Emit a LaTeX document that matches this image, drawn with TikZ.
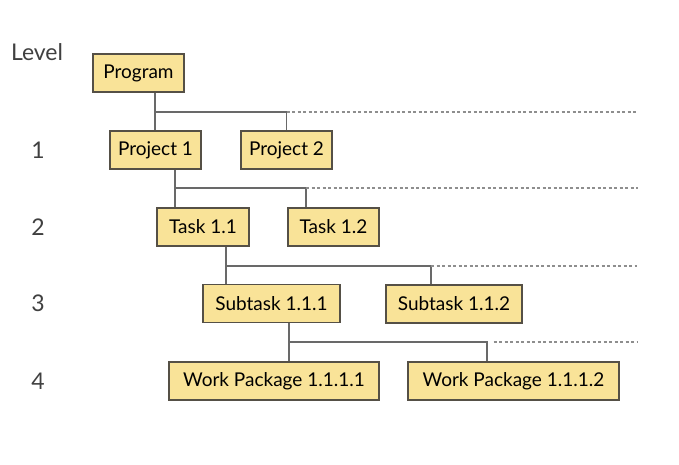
\documentclass[tikz,border=0pt]{standalone}
\usepackage{fontspec}
\setmainfont{Lato}
\usepackage{xcolor}
\usepackage{tikz}

\definecolor{boxfill}{RGB}{249,227,152}
\definecolor{boxline}{RGB}{85,80,70}
\definecolor{linkgray}{RGB}{105,105,105}

\begin{document}
\begin{tikzpicture}[x=1pt,y=-1pt,
  box/.style={draw=boxline, fill=boxfill, line width=1.2pt, minimum height=38pt,
    inner sep=0pt, font=\fontsize{19}{22}\selectfont},
  lvl/.style={font=\fontsize{23}{26}\selectfont, text=black!75},
  link/.style={draw=linkgray, line width=1.3pt},
  more/.style={draw=linkgray!75, line width=1.1pt, dash pattern=on 3pt off 2.5pt}]
\useasboundingbox (0,0) rectangle (679,465);

%% niveaux
\node[lvl] (lvl0) at (37,52) {Level};
\node[lvl] (lvl1) at (38,150) {1};
\node[lvl] (lvl2) at (38,227) {2};
\node[lvl] (lvl3) at (38,303) {3};
\node[lvl] (lvl4) at (38,381) {4};

%% boites
\node[box, minimum width=91pt] (prog) at (138.5,73) {Program};
\node[box, minimum width=91pt] (prj1) at (155.5,150) {Project 1};
\node[box, minimum width=91pt] (prj2) at (286.5,150) {Project 2};
\node[box, minimum width=92pt] (tsk11) at (203,227) {Task 1.1};
\node[box, minimum width=91pt] (tsk12) at (333.5,227) {Task 1.2};
\node[box, minimum width=137pt] (sub111) at (271.5,303.5) {Subtask 1.1.1};
\node[box, minimum width=136pt] (sub112) at (454,304) {Subtask 1.1.2};
\node[box, minimum width=210pt] (wp1) at (274,381) {Work Package 1.1.1.1};
\node[box, minimum width=211pt] (wp2) at (513.5,381) {Work Package 1.1.1.2};

%% points de branchement
\coordinate (b1) at (155,112);
\coordinate (e1) at (638,112);
\coordinate (b2) at (175,188);
\coordinate (e2) at (638,188);
\coordinate (b3) at (226,266);
\coordinate (e3) at (637,266);
\coordinate (b4) at (289,342);
\coordinate (e4) at (637,342);

%% niveau 1
\draw[link] (b1 |- prog.south) -- (b1 |- prj1.north);
\draw[link] (b1) -| (prj2.north);
\draw[more] (prj2.north |- b1) -- (e1);

%% niveau 2
\draw[link] (b2 |- prj1.south) -- (b2 |- tsk11.north);
\draw[link] (b2) -| ([xshift=-27.5pt]tsk12.north);
\draw[more] ([xshift=-27.5pt]tsk12.north |- b2) -- (e2);

%% niveau 3
\draw[link] (b3 |- tsk11.south) -- (b3 |- sub111.north);
\draw[link] (b3) -| ([xshift=-23pt]sub112.north);
\draw[more] ([xshift=-23pt]sub112.north |- b3) -- (e3);

%% niveau 4
\draw[link] (b4 |- sub111.south) -- (b4 |- wp1.north);
\draw[link] (b4) -| ([xshift=-26.5pt]wp2.north);
\draw[more] ([xshift=-20pt]wp2.north |- b4) -- (e4);
\end{tikzpicture}
\end{document}
